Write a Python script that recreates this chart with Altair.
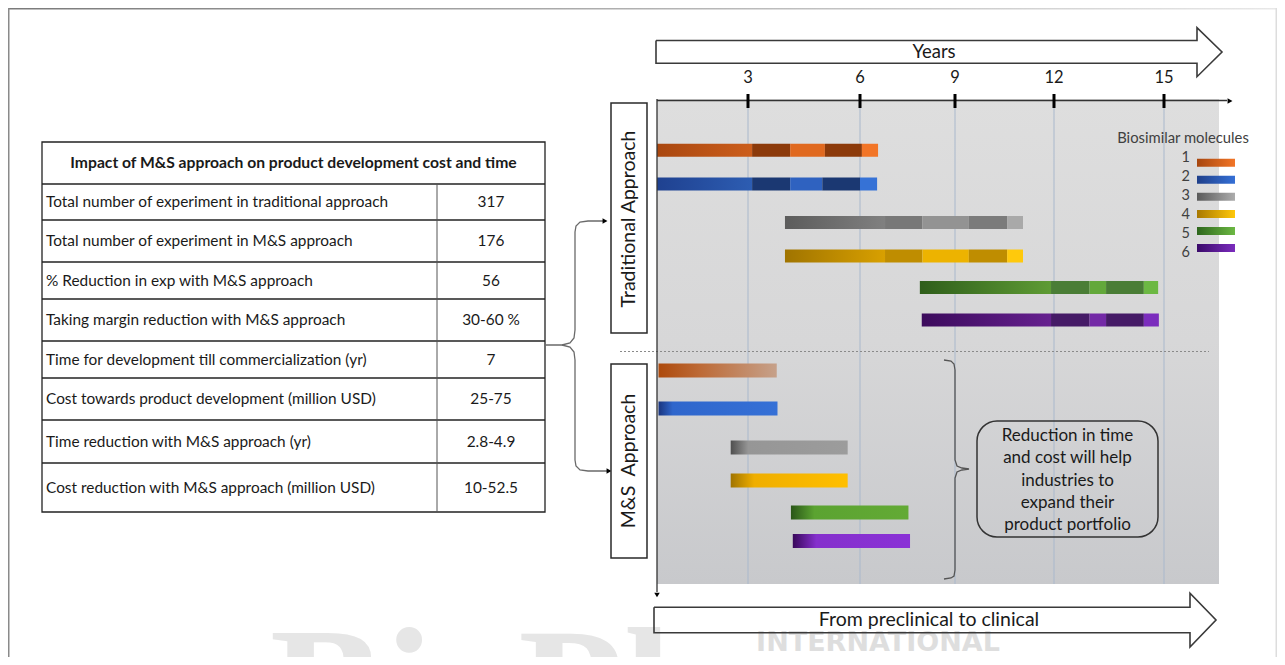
import altair as alt
import pandas as pd

# ------------------------------------------------------------------ data
molecules = [1, 2, 3, 4, 5, 6]
year_ticks = [3, 6, 9, 12, 15]

# Traditional approach: segment boundaries (years) of each molecule's bar
trad_m1 = [0.0, 3.11, 4.13, 5.06, 6.06, 6.57]
trad_m2 = [0.0, 3.11, 4.13, 4.99, 6.00, 6.54]
trad_m3 = [3.99, 6.79, 7.97, 9.42, 10.58, 11.06]
trad_m4 = [3.99, 6.79, 7.97, 9.42, 10.58, 11.06]
trad_m5 = [7.89, 11.91, 12.97, 13.42, 14.45, 14.84]
trad_m6 = [7.95, 11.91, 12.97, 13.42, 14.45, 14.86]
trad_bounds = [trad_m1, trad_m2, trad_m3, trad_m4, trad_m5, trad_m6]

# M&S approach: start / end (years)
ms_start = [0.05, 0.05, 2.43, 2.43, 4.15, 4.20]
ms_end = [3.77, 3.79, 5.67, 5.67, 7.53, 7.58]

table_title = "Impact of M&S approach on product development cost and time"
table_labels = [
    "Total number of experiment in traditional approach",
    "Total number of experiment in M&S approach",
    "% Reduction in exp with M&S approach",
    "Taking margin reduction with M&S approach",
    "Time for development till commercialization (yr)",
    "Cost towards product development (million USD)",
    "Time reduction with M&S approach (yr)",
    "Cost reduction with M&S approach (million USD)",
]
table_values = ["317", "176", "56", "30-60 %", "7", "25-75", "2.8-4.9", "10-52.5"]

box_lines = ["Reduction in time", "and cost will help", "industries to",
             "expand their", "product portfolio"]

# ------------------------------------------------------------------ styles
trad_grad = [("#a9470f", "#cc5e1c"), ("#1f4190", "#2d5db2"), ("#5c5c5c", "#808080"),
             ("#a07400", "#d8a000"), ("#2f5e1b", "#5e9b34"), ("#3c0b5c", "#66208f")]
trad_seg_colors = [
    ["#8c3a0a", "#e0691f", "#8c3a0a", "#f27527"],
    ["#1b3872", "#2f62c0", "#1b3872", "#3672d6"],
    ["#787878", "#939393", "#7b7b7b", "#a9a9a9"],
    ["#bf8d00", "#edb300", "#bf8d00", "#ffc90c"],
    ["#4a7d36", "#63a83b", "#4a7d36", "#6cb843"],
    ["#451a66", "#7329a6", "#451a66", "#7b2cbd"],
]
ms_grad = [
    [(0, "#ad4a0c"), (0.35, "#bd6a36"), (1, "#c6a18a")],
    [(0, "#1a357f"), (0.12, "#2f66cc"), (1, "#3570d6")],
    [(0, "#4f4f4f"), (0.15, "#969696"), (1, "#9c9c9c")],
    [(0, "#a07400"), (0.2, "#efae00"), (1, "#ffbf00")],
    [(0, "#2a5618"), (0.2, "#5ba331"), (1, "#63aa35")],
    [(0, "#38085a"), (0.2, "#8530cc"), (1, "#8a31d6")],
]
leg_grad = [("#a6460f", "#f27527"), ("#1f3f8a", "#3570d6"), ("#5a5a5a", "#acacac"),
            ("#a87800", "#ffc80a"), ("#2e661d", "#6cb843"), ("#3a0a6a", "#7b2cbd")]
FONT = "Lato"
INK = "#1a1a1a"

# ------------------------------------------------------------------ layout
W, H, M = 1269, 649, 8
CX = alt.Scale(domain=[M, M + W], range=[0, W], nice=False, zero=False)
CY = alt.Scale(domain=[M, M + H], range=[0, H], nice=False, zero=False)
YEAR_PX = [657, 748, 860, 955, 1054, 1164]
YS = alt.Scale(domain=[0, 3, 6, 9, 12, 15], range=[p - M for p in YEAR_PX], nice=False, zero=False)
ROW_PX = [145.5, 184, 222.5, 256, 287.5, 320, 370.5, 408.5, 447.5, 480.5, 512.5, 545]
RS = alt.Scale(domain=list(range(1, 13)), range=[p - M for p in ROW_PX], nice=False, zero=False)
LEG_Y = alt.Scale(domain=[1, 6], range=[157.7 - M, 253 - M], nice=False, zero=False)
TABLE_ROW_Y = [202, 241, 280.5, 320, 359.5, 399, 441.5, 487.5]
TABLE_LINES_Y = [184, 220, 262, 299, 341, 378, 420, 463]


def hgrad(stops):
    return {"gradient": "linear", "x1": 0, "y1": 0, "x2": 1, "y2": 0,
            "stops": [{"offset": o, "color": c} for o, c in stops]}


def vgrad(stops):
    return {"gradient": "linear", "x1": 0, "y1": 0, "x2": 0, "y2": 1,
            "stops": [{"offset": o, "color": c} for o, c in stops]}


def cx(f):
    return alt.X(f, scale=CX, axis=None)


def cy(f):
    return alt.Y(f, scale=CY, axis=None)


def box(x1, y1, x2, y2, **kw):
    d = pd.DataFrame({"x": [x1], "x2": [x2], "y": [y1], "y2": [y2]})
    return alt.Chart(d).mark_rect(**kw).encode(x=cx("x:Q"), x2="x2:Q", y=cy("y:Q"), y2="y2:Q")


def seg(lines, **kw):
    d = pd.DataFrame(lines, columns=["x", "y", "x2", "y2"])
    return alt.Chart(d).mark_rule(**kw).encode(x=cx("x:Q"), x2="x2:Q", y=cy("y:Q"), y2="y2:Q")


def path(groups, **kw):
    rows = []
    for g, pts in enumerate(groups):
        for i, (x, y) in enumerate(pts):
            rows.append({"g": g, "i": i, "x": x, "y": y})
    return alt.Chart(pd.DataFrame(rows)).mark_line(**kw).encode(
        x=cx("x:Q"), y=cy("y:Q"), order="i:Q", detail="g:N")


def label(x, y, s, **kw):
    kw.setdefault("font", FONT)
    kw.setdefault("color", INK)
    d = pd.DataFrame({"x": [x], "y": [y], "t": [s]})
    return alt.Chart(d).mark_text(**kw).encode(x=cx("x:Q"), y=cy("y:Q"), text="t:N")


def heads(pts, shape, size=35):
    d = pd.DataFrame(pts, columns=["x", "y"])
    return alt.Chart(d).mark_point(shape=shape, filled=True, size=size, color="black",
                                   opacity=1).encode(x=cx("x:Q"), y=cy("y:Q"))


layers = []

# frame of the slide
layers.append(box(8, 8, 1277, 9.5, color=hgrad([(0, "#7a7a7a"), (1, "#e8e8e8")])))
layers.append(box(8, 8, 9.5, 657, color="#8a8a8a"))
layers.append(box(1275.5, 8, 1277, 657, color="#dddddd"))

# watermark
layers.append(label(270, 746, "BioPharm", font="Liberation Serif", fontSize=172,
                    fontWeight="bold", color="#e6e6e6", align="left", baseline="alphabetic"))
layers.append(label(878, 650.5, "INTERNATIONAL", font="DejaVu Sans", fontSize=27,
                    fontWeight="bold", color="#dedede", baseline="alphabetic"))

# ---------------- table
layers.append(box(42, 142, 545, 512, fill="white", stroke="#222222", strokeWidth=1.3))
layers.append(seg([(42, y, 545, y) for y in TABLE_LINES_Y], color="#222222", strokeWidth=1.3))
layers.append(seg([(437, 184, 437, 512)], color="#555555", strokeWidth=1))
layers.append(label(293.5, 163, table_title, fontSize=15.7, fontWeight="bold"))
tbl = pd.DataFrame({"r": list(range(8)), "lab": table_labels, "val": table_values,
                    "y": TABLE_ROW_Y})
layers.append(alt.Chart(tbl).mark_text(font=FONT, fontSize=15.4, color=INK, align="left").encode(
    x=alt.value(46 - M), y=cy("y:Q"), text="lab:N"))
layers.append(alt.Chart(tbl).mark_text(font=FONT, fontSize=15.4, color=INK).encode(
    x=alt.value(491 - M), y=cy("y:Q"), text="val:N"))

# connector from the table to both approaches
layers.append(path([
    [(545, 345), (562, 345), (570, 343), (574, 338), (575, 330), (575, 232), (576, 226),
     (580, 222), (588, 221), (603, 221)],
    [(562, 345), (570, 347), (574, 352), (575, 360), (575, 460), (576, 466), (580, 470),
     (588, 471), (607, 471)],
], color="#6a6a6a", strokeWidth=1.3))
layers.append(heads([(605, 221), (609, 471)], "triangle-right", 32))

# ---------------- gantt panel
layers.append(box(657, 99, 1219, 584,
                  color=vgrad([(0, "#dedede"), (0.5, "#d7d7d8"), (1, "#c8c9cc")])))
ticks_df = pd.DataFrame({"yr": year_ticks})
layers.append(alt.Chart(ticks_df).mark_rule(color="#a9b8cc", strokeWidth=1).encode(
    x=alt.X("yr:Q", scale=YS, axis=None), y=alt.value(100 - M), y2=alt.value(584 - M)))
layers.append(seg([(620, 351.5, 1209, 351.5)], color="#8a8a8a", strokeWidth=1,
                  strokeDash=[2, 2]))

# traditional bars: gradient first phase + alternating later phases
for k, m in enumerate(molecules):
    b = trad_bounds[k]
    d = pd.DataFrame({"row": [m], "x": [b[0]], "x2": [b[1]]})
    layers.append(alt.Chart(d).mark_bar(orient="horizontal", size=13,
                                        color=hgrad([(0, trad_grad[k][0]), (1, trad_grad[k][1])])).encode(
        x=alt.X("x:Q", scale=YS, axis=None), x2="x2:Q",
        y=alt.Y("row:Q", scale=RS, axis=None)))
seg_rows = []
for k, m in enumerate(molecules):
    b = trad_bounds[k]
    for s in range(1, 5):
        seg_rows.append({"row": m, "x": b[s], "x2": b[s + 1], "c": trad_seg_colors[k][s - 1]})
layers.append(alt.Chart(pd.DataFrame(seg_rows)).mark_bar(orient="horizontal", size=13).encode(
    x=alt.X("x:Q", scale=YS, axis=None), x2="x2:Q",
    y=alt.Y("row:Q", scale=RS, axis=None), color=alt.Color("c:N", scale=None)))

# M&S bars
for k, m in enumerate(molecules):
    d = pd.DataFrame({"row": [m + 6], "x": [ms_start[k]], "x2": [ms_end[k]]})
    layers.append(alt.Chart(d).mark_bar(orient="horizontal", size=14, color=hgrad(ms_grad[k])).encode(
        x=alt.X("x:Q", scale=YS, axis=None), x2="x2:Q",
        y=alt.Y("row:Q", scale=RS, axis=None)))

# axes lines with arrowheads
layers.append(seg([(657, 100.5, 1227, 100.5)], color="#333333", strokeWidth=1.3))
layers.append(heads([(1230, 101)], "triangle-right", 32))
layers.append(seg([(657, 99, 657, 592)], color="#333333", strokeWidth=1.3))
layers.append(heads([(657, 595)], "triangle-down", 30))

# year ticks + labels
layers.append(alt.Chart(ticks_df).mark_rule(color="black", strokeWidth=3).encode(
    x=alt.X("yr:Q", scale=YS, axis=None), y=alt.value(94 - M), y2=alt.value(108 - M)))
layers.append(alt.Chart(ticks_df).mark_text(font=FONT, fontSize=16.5, color=INK).encode(
    x=alt.X("yr:Q", scale=YS, axis=None), y=alt.value(77.5 - M), text="yr:Q"))

# big outline arrows
layers.append(path([
    [(656, 40.5), (1197, 40.5), (1197, 27.7), (1222, 52), (1197, 76.7), (1197, 63.3),
     (656, 63.3), (656, 40.5)],
    [(654, 607.3), (1190, 607.3), (1190, 593.3), (1216, 620), (1190, 647), (1190, 632.7),
     (654, 632.7), (654, 607.3)],
], color="#3a3a3a", strokeWidth=1.6))
layers.append(label(934, 52, "Years", fontSize=18.5))
layers.append(label(929, 619.5, "From preclinical to clinical", fontSize=19.5))

# approach label boxes
layers.append(box(611, 103, 647, 333, fill="white", stroke="#2a2a2a", strokeWidth=1.5))
layers.append(box(611, 364, 647, 558, fill="white", stroke="#2a2a2a", strokeWidth=1.5))
layers.append(label(629, 219, "Traditional Approach", fontSize=19.5, angle=270))
layers.append(label(629, 461, "M&S\u00a0 Approach", fontSize=19.5, angle=270))

# right brace + rounded note box
layers.append(path([[(944, 360), (951, 361), (954, 364), (955, 370), (955, 460), (957, 466),
                     (962, 468), (969, 469), (962, 470), (957, 472), (955, 478), (955, 570),
                     (954, 576), (951, 578), (944, 579)]], color="#555555", strokeWidth=1.3))
layers.append(box(977, 421, 1158, 537, fill=None, fillOpacity=0, stroke="#333333",
                  strokeWidth=1.5, cornerRadius=20))
note = pd.DataFrame({"t": box_lines, "y": [436, 458, 481, 503, 525]})
layers.append(alt.Chart(note).mark_text(font=FONT, fontSize=17, color=INK).encode(
    x=alt.value(1067.5 - M), y=cy("y:Q"), text="t:N"))

# legend
layers.append(label(1183, 139, "Biosimilar molecules", fontSize=14.8, color="#404040"))
leg = pd.DataFrame({"m": molecules})
layers.append(alt.Chart(leg).mark_text(font=FONT, fontSize=14.5, color="#404040", align="right").encode(
    x=alt.value(1190 - M), y=alt.Y("m:Q", scale=LEG_Y, axis=None), text="m:N"))
for k, m in enumerate(molecules):
    d = pd.DataFrame({"m": [m], "x0": [1197], "x1": [1235]})
    layers.append(alt.Chart(d).mark_bar(orient="horizontal", size=8,
                                        color=hgrad([(0, leg_grad[k][0]), (1, leg_grad[k][1])])).encode(
        x=cx("x0:Q"), x2="x1:Q", y=alt.Y("m:Q", scale=LEG_Y, axis=None)))

chart = alt.layer(*layers).resolve_scale(x="independent", y="independent").properties(
    width=W, height=H, padding=0, autosize=alt.AutoSizeParams(type="none"),
    background="white",
).configure_view(stroke=None)

chart.save("out.html", embed_options={"renderer": "svg", "actions": False})
